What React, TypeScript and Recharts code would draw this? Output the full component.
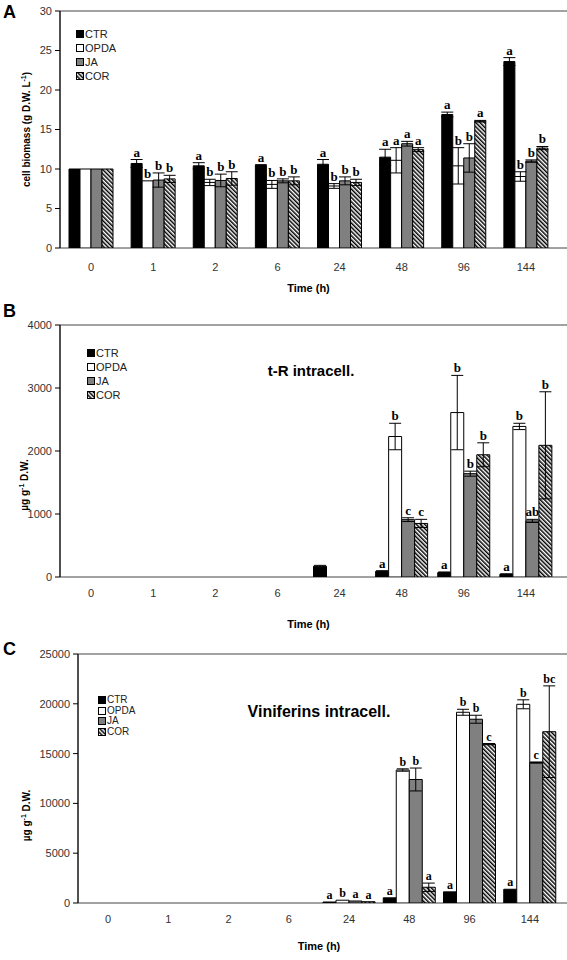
import {
  Bar,
  BarChart,
  ErrorBar,
  LabelList,
  Legend,
  ReferenceArea,
  XAxis,
  YAxis,
} from 'recharts';

const sans = "'Liberation Sans', Arial, sans-serif";
const serif = "'Liberation Serif', 'Times New Roman', serif";

const times = ['0', '1', '2', '6', '24', '48', '96', '144'];
const seriesNames = ['CTR', 'OPDA', 'JA', 'COR'];
const seriesKeys = ['ctr', 'opda', 'ja', 'cor'];

// A - cell biomass (g D.W. L-1)
const ctrA = [10, 10.7, 10.4, 10.55, 10.6, 11.5, 16.9, 23.6];
const opdaA = [10, 8.5, 8.3, 8.05, 7.85, 11.1, 10.4, 9.05];
const jaA = [10, 8.6, 8.55, 8.5, 8.5, 13.2, 11.4, 11.0];
const corA = [10, 8.75, 8.8, 8.5, 8.3, 12.45, 16.05, 12.65];
const ctrAErr = [0, 0.5, 0.4, 0, 0.6, 1.0, 0.3, 0.5];
const opdaAErr = [0, 0, 0.4, 0.5, 0.3, 1.6, 2.3, 0.6];
const jaAErr = [0, 0.9, 0.8, 0.25, 0.5, 0.3, 1.8, 0.15];
const corAErr = [0, 0.45, 0.85, 0.5, 0.4, 0.25, 0.1, 0.2];
const ctrALet = ['', 'a', 'a', 'a', 'a', 'a', 'a', 'a'];
const opdaALet = ['', 'b', 'b', 'b', 'b', 'a', 'b', 'b'];
const jaALet = ['', 'b', 'b', 'b', 'b', 'a', 'b', 'b'];
const corALet = ['', 'b', 'b', 'b', 'b', 'a', 'a', 'b'];

// B - t-R intracell.
const ctrB = [0, 0, 0, 0, 170, 90, 70, 45];
const opdaB = [0, 0, 0, 0, 0, 2230, 2610, 2390];
const jaB = [0, 0, 0, 0, 0, 910, 1640, 890];
const corB = [0, 0, 0, 0, 0, 850, 1940, 2090];
const ctrBErr = [0, 0, 0, 0, 15, 10, 10, 5];
const opdaBErr = [0, 0, 0, 0, 0, 210, 590, 50];
const jaBErr = [0, 0, 0, 0, 0, 30, 40, 25];
const corBErr = [0, 0, 0, 0, 0, 65, 190, 850];
const ctrBLet = ['', '', '', '', '', 'a', 'a', 'a'];
const opdaBLet = ['', '', '', '', '', 'b', 'b', 'b'];
const jaBLet = ['', '', '', '', '', 'c', 'b', 'ab'];
const corBLet = ['', '', '', '', '', 'c', 'b', 'b'];

// C - Viniferins intracell.
const ctrC = [0, 0, 0, 0, 100, 520, 1120, 1380];
const opdaC = [0, 0, 0, 0, 280, 13350, 19150, 19950];
const jaC = [0, 0, 0, 0, 200, 12400, 18450, 14100];
const corC = [0, 0, 0, 0, 130, 1580, 15950, 17200];
const ctrCErr = [0, 0, 0, 0, 0, 0, 0, 0];
const opdaCErr = [0, 0, 0, 0, 0, 120, 300, 450];
const jaCErr = [0, 0, 0, 0, 0, 1150, 400, 60];
const corCErr = [0, 0, 0, 0, 0, 420, 60, 4600];
const ctrCLet = ['', '', '', '', 'a', 'a', 'a', 'a'];
const opdaCLet = ['', '', '', '', 'b', 'b', 'b', 'b'];
const jaCLet = ['', '', '', '', 'a', 'b', 'b', 'c'];
const corCLet = ['', '', '', '', 'a', 'a', 'c', 'bc'];

const edgeTicks = [0, 1, 2, 3, 4, 5, 6, 7, 8];

function buildRows(vals: number[][], errs: number[][], lets: string[][]) {
  return times.map((t, i) => {
    const row: Record<string, any> = { t };
    seriesKeys.forEach((k, s) => {
      row[k] = vals[s][i];
      row[k + 'Err'] = errs[s][i];
      row[k + 'Lab'] = `${lets[s][i]}|${vals[s][i]}|${errs[s][i]}`;
    });
    return row;
  });
}

const dataA = buildRows(
  [ctrA, opdaA, jaA, corA],
  [ctrAErr, opdaAErr, jaAErr, corAErr],
  [ctrALet, opdaALet, jaALet, corALet]
);
const dataB = buildRows(
  [ctrB, opdaB, jaB, corB],
  [ctrBErr, opdaBErr, jaBErr, corBErr],
  [ctrBLet, opdaBLet, jaBLet, corBLet]
);
const dataC = buildRows(
  [ctrC, opdaC, jaC, corC],
  [ctrCErr, opdaCErr, jaCErr, corCErr],
  [ctrCLet, opdaCLet, jaCLet, corCLet]
);

const fills = (hatch: string) => ['#000', '#fff', '#808080', `url(#${hatch})`];

const letterContent = (fontSize: number) => (props: any) => {
  const vb = props.viewBox || props;
  const [letter, v, e] = String(props.value ?? '').split('|');
  if (!letter) return null;
  const val = Number(v);
  const err = Number(e);
  const h = Math.abs(vb.height || 0);
  const top = Math.min(vb.y, vb.y + (vb.height || 0));
  const errPx = val > 0 ? (err * h) / val : 0;
  return (
    <text
      x={vb.x + vb.width / 2}
      y={top - errPx - 3}
      textAnchor="middle"
      fontFamily={serif}
      fontWeight="bold"
      fontSize={fontSize}
      fill="#000"
    >
      {letter}
    </text>
  );
};

function LegendBox({ hatch, rowH, fontSize }: { hatch: string; rowH: number; fontSize: number }) {
  const f = fills(hatch);
  return (
    <div style={{ fontFamily: sans, fontSize, color: '#222', lineHeight: `${rowH}px` }}>
      {seriesNames.map((n, i) => (
        <div key={n} style={{ display: 'flex', alignItems: 'center', height: rowH }}>
          <svg width={8} height={8} style={{ marginRight: 1 }}>
            <rect x={0.5} y={0.5} width={7} height={7} fill={f[i]} stroke="#000" />
          </svg>
          {n}
        </div>
      ))}
    </div>
  );
}

type PanelProps = {
  data: Record<string, any>[];
  height: number;
  marginTop: number;
  marginRight: number;
  yWidth: number;
  axisH: number;
  tickGap: number;
  yMax: number;
  yTicks: number[];
  yTitle: 'A' | 'B';
  yTitleX: number;
  yTitleShift: number;
  xTitleY: number;
  barSize: number;
  capW: number;
  letterSize: number;
  hatch: string;
  legendLeft: number;
  legendTop: number;
  legendRow: number;
  legendFont: number;
};

function Panel(p: PanelProps) {
  const f = fills(p.hatch);
  const yTitle = (lp: any) => {
    const vb = lp.viewBox;
    const cy = vb.y + vb.height / 2 + p.yTitleShift;
    return (
      <text
        transform={`translate(${vb.x + p.yTitleX}, ${cy}) rotate(-90)`}
        textAnchor="middle"
        fontFamily={sans}
        fontWeight="bold"
        fontSize={10}
        fill="#000"
      >
        {p.yTitle === 'A' ? (
          <>
            cell biomass (g D.W. L
            <tspan dy={-4} fontSize={7}>
              -1
            </tspan>
            <tspan dy={4}>)</tspan>
          </>
        ) : (
          <>
            µg g
            <tspan dy={-4} fontSize={7}>
              -1
            </tspan>
            <tspan dy={4}> D.W.</tspan>
          </>
        )}
      </text>
    );
  };
  const xTitle = (lp: any) => {
    const vb = lp.viewBox;
    return (
      <text
        x={vb.x + vb.width / 2}
        y={vb.y + p.xTitleY}
        textAnchor="middle"
        fontFamily={sans}
        fontWeight="bold"
        fontSize={11}
        fill="#000"
      >
        Time (h)
      </text>
    );
  };
  return (
    <BarChart
      width={567}
      height={p.height}
      data={p.data}
      margin={{ top: p.marginTop, right: p.marginRight, bottom: 0, left: 0 }}
      barGap={0}
    >
      <defs>
        <pattern
          id={p.hatch}
          width={3}
          height={3}
          patternUnits="userSpaceOnUse"
          patternTransform="rotate(-45)"
        >
          <rect width={3} height={3} fill="#fff" />
          <line x1={0.75} y1={0} x2={0.75} y2={3} stroke="#000" strokeWidth={1.5} />
        </pattern>
      </defs>
      <XAxis
        xAxisId="edge"
        type="number"
        domain={[0, 8]}
        ticks={edgeTicks}
        tick={false}
        tickSize={4}
        height={0}
        stroke="#000"
        allowDataOverflow
      />
      <XAxis
        xAxisId="cat"
        dataKey="t"
        axisLine={false}
        tickLine={false}
        tickSize={0}
        tickMargin={p.tickGap}
        height={p.axisH}
        tick={{ fontSize: 11, fill: '#333', fontFamily: sans }}
        interval={0}
        label={{ value: 'Time (h)', content: xTitle }}
      />
      <YAxis
        width={p.yWidth}
        domain={[0, p.yMax]}
        ticks={p.yTicks}
        allowDataOverflow
        tickSize={5}
        tickMargin={3}
        stroke="#000"
        tick={{ fontSize: 11, fill: '#333', fontFamily: sans }}
        label={{ value: 'y', content: yTitle }}
      />
      <ReferenceArea
        xAxisId="edge"
        x1={0}
        x2={8}
        y1={0}
        y2={p.yMax}
        fill="none"
        stroke="#444"
        strokeWidth={1}
        ifOverflow="extendDomain"
      />
      <Legend
        layout="vertical"
        align="center"
        verticalAlign="middle"
        wrapperStyle={{ left: p.legendLeft, top: p.legendTop, width: 'auto' }}
        content={() => <LegendBox hatch={p.hatch} rowH={p.legendRow} fontSize={p.legendFont} />}
      />
      {seriesKeys.map((k, i) => (
        <Bar
          key={k}
          xAxisId="cat"
          dataKey={k}
          name={seriesNames[i]}
          fill={f[i]}
          stroke="#000"
          strokeWidth={1}
          barSize={p.barSize}
          isAnimationActive={false}
        >
          <ErrorBar
            dataKey={k + 'Err'}
            width={p.capW}
            stroke="#000"
            strokeWidth={1}
            direction="y"
            isAnimationActive={false}
          />
          <LabelList dataKey={k + 'Lab'} content={letterContent(p.letterSize)} />
        </Bar>
      ))}
    </BarChart>
  );
}

const letterStyle = {
  position: 'absolute' as const,
  fontFamily: sans,
  fontWeight: 'bold' as const,
  fontSize: 18,
  lineHeight: '18px',
  color: '#000',
};

const titleStyle = {
  position: 'absolute' as const,
  fontFamily: sans,
  fontWeight: 'bold' as const,
  color: '#000',
  whiteSpace: 'nowrap' as const,
  transform: 'translate(-50%, -50%)',
};

export default function App() {
  return (
    <div
      style={{
        position: 'absolute',
        left: 0,
        top: 0,
        width: 567,
        height: 960,
        background: '#fff',
        overflow: 'hidden',
      }}
    >
      <div style={{ position: 'absolute', left: 0, top: 0 }}>
        <Panel
          data={dataA}
          height={300}
          marginTop={11}
          marginRight={10}
          yWidth={60}
          axisH={52}
          tickGap={15}
          yMax={30}
          yTicks={[0, 5, 10, 15, 20, 25, 30]}
          yTitle="A"
          yTitleX={30}
          yTitleShift={0}
          xTitleY={44}
          barSize={11}
          capW={6}
          letterSize={13}
          hatch="hatchA"
          legendLeft={76}
          legendTop={27}
          legendRow={14}
          legendFont={11}
        />
      </div>
      <div style={{ position: 'absolute', left: 0, top: 300 }}>
        <Panel
          data={dataB}
          height={340}
          marginTop={25}
          marginRight={10}
          yWidth={60}
          axisH={63}
          tickGap={12}
          yMax={4000}
          yTicks={[0, 1000, 2000, 3000, 4000]}
          yTitle="B"
          yTitleX={28}
          yTitleShift={34}
          xTitleY={51}
          barSize={13}
          capW={6}
          letterSize={13}
          hatch="hatchB"
          legendLeft={87}
          legendTop={46}
          legendRow={14}
          legendFont={11}
        />
      </div>
      <div style={{ position: 'absolute', left: 0, top: 640 }}>
        <Panel
          data={dataC}
          height={320}
          marginTop={14}
          marginRight={7}
          yWidth={78}
          axisH={57}
          tickGap={12}
          yMax={25000}
          yTicks={[0, 5000, 10000, 15000, 20000, 25000]}
          yTitle="B"
          yTitleX={30}
          yTitleShift={37}
          xTitleY={47}
          barSize={13}
          capW={6}
          letterSize={12}
          hatch="hatchC"
          legendLeft={98}
          legendTop={55}
          legendRow={10.5}
          legendFont={10}
        />
      </div>
      <div style={{ ...letterStyle, left: 3, top: 3 }}>A</div>
      <div style={{ ...letterStyle, left: 3, top: 302 }}>B</div>
      <div style={{ ...letterStyle, left: 3, top: 640 }}>C</div>
      <div style={{ ...titleStyle, left: 311, top: 370, fontSize: 15 }}>t-R intracell.</div>
      <div style={{ ...titleStyle, left: 319, top: 712, fontSize: 16 }}>Viniferins intracell.</div>
    </div>
  );
}
